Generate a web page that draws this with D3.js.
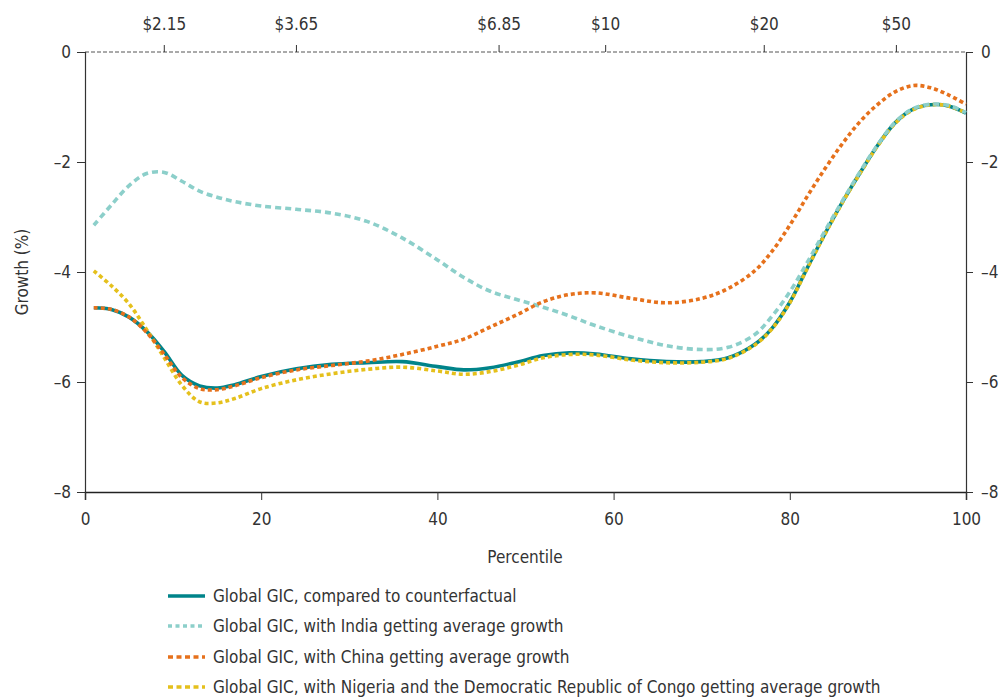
<!DOCTYPE html>
<html><head><meta charset="utf-8">
<script src="https://cdn.jsdelivr.net/npm/d3@7"></script>
<style>
body{margin:0;background:#fff;}
svg text{font-family:"Liberation Sans Narrow","DejaVu Sans Condensed","Roboto",sans-serif;fill:#333;}
</style></head><body>
<svg id="c" width="1002" height="697"></svg>
<script>
const percentiles = [1,3,5,7,9,11,13,15,17,20,24,28,32,36,40,43,46,49,52,55,58,62,66,70,73,76,78,80,82,84,86,88,90,92,94,96,98,100];
const globalGIC = [-4.65,-4.68,-4.82,-5.08,-5.45,-5.88,-6.07,-6.11,-6.05,-5.90,-5.76,-5.68,-5.65,-5.63,-5.72,-5.78,-5.74,-5.64,-5.52,-5.47,-5.49,-5.58,-5.63,-5.63,-5.56,-5.32,-5.02,-4.55,-3.92,-3.30,-2.72,-2.19,-1.69,-1.28,-1.04,-0.96,-0.98,-1.11];
const indiaGIC = [-3.15,-2.78,-2.43,-2.21,-2.19,-2.35,-2.53,-2.64,-2.72,-2.80,-2.86,-2.93,-3.08,-3.38,-3.78,-4.10,-4.35,-4.50,-4.64,-4.80,-4.98,-5.18,-5.34,-5.41,-5.37,-5.14,-4.80,-4.36,-3.82,-3.25,-2.70,-2.17,-1.68,-1.27,-1.03,-0.95,-0.97,-1.10];
const chinaGIC = [-4.65,-4.68,-4.82,-5.10,-5.50,-5.92,-6.12,-6.14,-6.07,-5.92,-5.78,-5.70,-5.62,-5.50,-5.35,-5.22,-5.00,-4.78,-4.54,-4.41,-4.38,-4.48,-4.56,-4.48,-4.30,-3.98,-3.62,-3.15,-2.62,-2.12,-1.66,-1.26,-0.95,-0.72,-0.61,-0.65,-0.78,-0.95];
const nigeriaGIC = [-3.98,-4.25,-4.58,-5.05,-5.56,-6.06,-6.36,-6.38,-6.30,-6.12,-5.96,-5.85,-5.77,-5.73,-5.80,-5.86,-5.81,-5.70,-5.56,-5.50,-5.51,-5.60,-5.65,-5.64,-5.57,-5.33,-5.03,-4.56,-3.93,-3.31,-2.73,-2.20,-1.70,-1.29,-1.05,-0.96,-0.98,-1.11];
const xTicks = [0,20,40,60,80,100];
const yTicks = [0,-2,-4,-6,-8];
const povertyLines = ["$2.15","$3.65","$6.85","$10","$20","$50"];
const povertyPercentiles = [9.0,24.0,47.0,59.1,77.1,92.1];
const seriesNames = [
  "Global GIC, compared to counterfactual",
  "Global GIC, with India getting average growth",
  "Global GIC, with China getting average growth",
  "Global GIC, with Nigeria and the Democratic Republic of Congo getting average growth"
];

const svg = d3.select("#c");
const L=85,R=966,T=52,B=492;
const x = d3.scaleLinear().domain([0,100]).range([L,R]);
const y = d3.scaleLinear().domain([-8,0]).range([B,T]);
const fs = 17;
const minus = d => d===0 ? "0" : "\u2013"+Math.abs(d);

const styles = [
  {color:"#00848a", width:3.6, dash:null, data:globalGIC},
  {color:"#8ccfca", width:3.6, dash:"6,4", data:indiaGIC},
  {color:"#e6711c", width:3.6, dash:"4,3", data:chinaGIC},
  {color:"#e5c01c", width:3.6, dash:"4,3", data:nigeriaGIC}
];

// top dashed zero line
svg.append("line").attr("x1",L).attr("x2",R).attr("y1",T).attr("y2",T)
  .attr("stroke","#555").attr("stroke-width",1).attr("stroke-dasharray","4,2");

// top poverty axis
const topAxis = svg.append("g").attr("transform",`translate(0,${T})`);
povertyPercentiles.forEach((p,i)=>{
  topAxis.append("line").attr("x1",x(p)).attr("x2",x(p)).attr("y1",-7).attr("y2",0).attr("stroke","#333").attr("stroke-width",1);
  topAxis.append("text").attr("x",x(p)).attr("y",-28).attr("dy","0.35em").attr("text-anchor","middle").attr("font-size",fs).text(povertyLines[i]);
});

// left axis
const la = svg.append("g").attr("transform",`translate(${L},0)`)
  .call(d3.axisLeft(y).tickValues(yTicks).tickFormat(minus).tickSize(8).tickPadding(6));
// right axis
const ra = svg.append("g").attr("transform",`translate(${R},0)`)
  .call(d3.axisRight(y).tickValues(yTicks).tickFormat(minus).tickSize(7).tickPadding(8));
// bottom axis
const ba = svg.append("g").attr("transform",`translate(0,${B})`)
  .call(d3.axisBottom(x).tickValues(xTicks).tickSize(8).tickPadding(13));
[la,ra,ba].forEach(g=>{
  g.select(".domain").attr("stroke","#333").attr("stroke-width",1.2);
  g.selectAll(".tick line").attr("stroke","#333");
  g.selectAll("text").attr("font-size",fs).attr("fill","#333");
  g.attr("font-family",null).attr("font-size",null);
});
ba.select(".domain").attr("stroke","#222").attr("stroke-width",1.5);

// labels
svg.append("text").attr("x",525).attr("y",557).attr("dy","0.35em").attr("text-anchor","middle").attr("font-size",fs).text("Percentile");
svg.append("text").attr("transform","translate(22,272) rotate(-90)").attr("dy","0.35em").attr("text-anchor","middle").attr("font-size",fs).text("Growth (%)");

// lines
const line = d3.line().x((d,i)=>x(percentiles[i])).y(d=>y(d)).curve(d3.curveCatmullRom.alpha(0.5));
const order = [0,3,1,2];
order.forEach(k=>{
  const s = styles[k];
  const p = svg.append("path").attr("d",line(s.data)).attr("fill","none")
    .attr("stroke",s.color).attr("stroke-width",s.width);
  if(s.dash) p.attr("stroke-dasharray",s.dash);
});

// legend
const legY = [596,626,657,687];
seriesNames.forEach((n,i)=>{
  const s = styles[i];
  const l = svg.append("line").attr("x1",168).attr("x2",205).attr("y1",legY[i]).attr("y2",legY[i])
    .attr("stroke",s.color).attr("stroke-width",s.width);
  if(s.dash) l.attr("stroke-dasharray", i===1 ? "4,3.5" : "5,3.5");
  svg.append("text").attr("x",213).attr("y",legY[i]).attr("dy","0.35em").attr("font-size",fs).text(n);
});
</script></body></html>
